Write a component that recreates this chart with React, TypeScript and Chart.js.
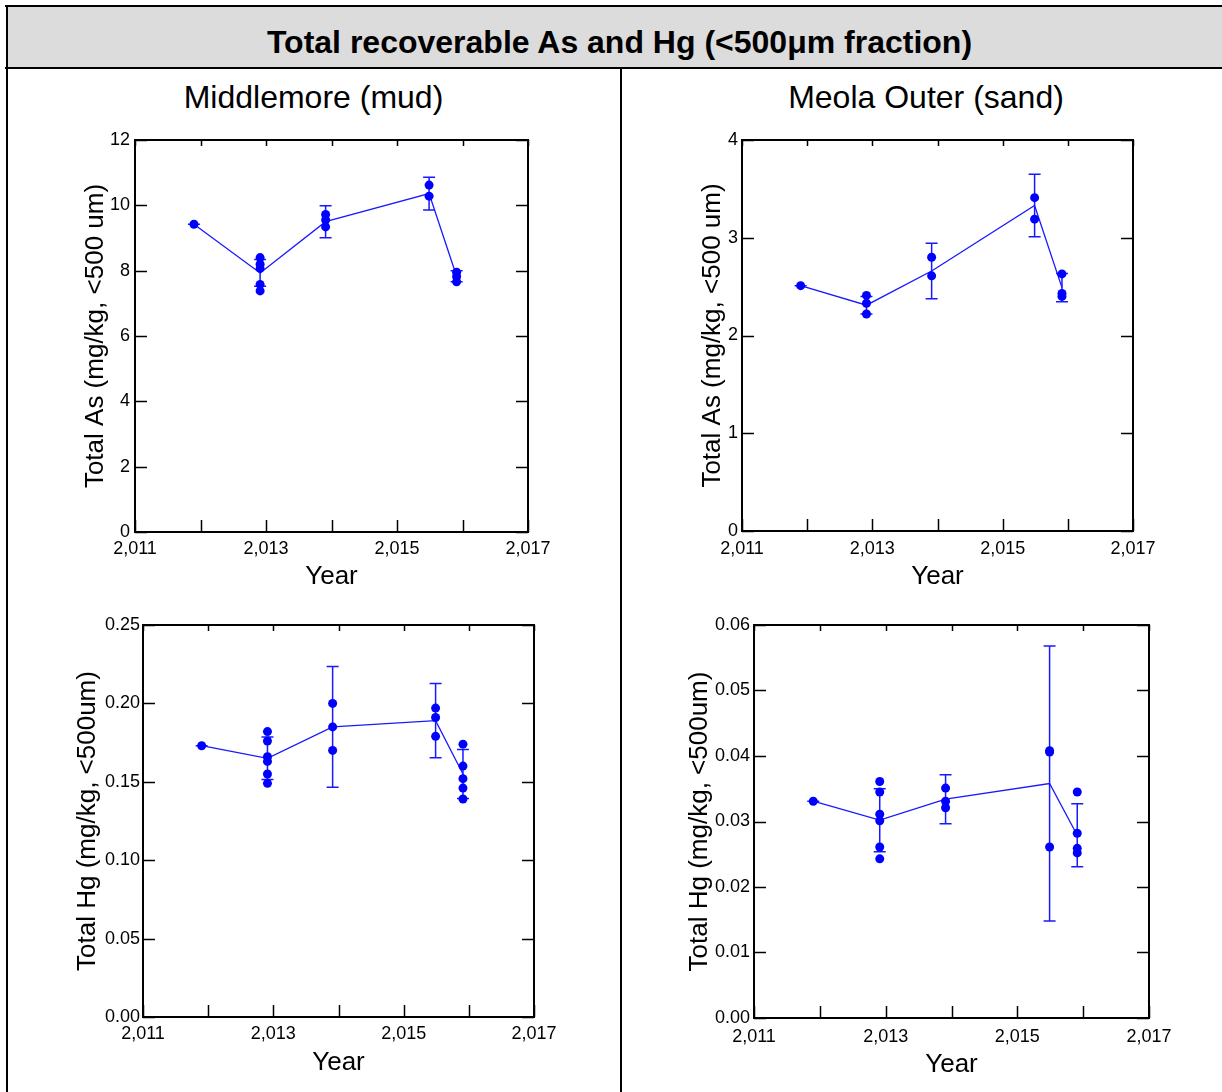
import React, { useEffect, useRef } from 'react';
import { Chart, registerables } from 'chart.js';

Chart.register(...registerables);

const FONT = '"Liberation Sans", Arial, Helvetica, sans-serif';
const PT_BLUE = 'rgb(0,0,255)';
const LINE_BLUE = 'rgb(25,25,255)';

// survey dates (decimal years)
const surveyYears = [2011.9, 2012.91, 2013.91, 2015.49, 2015.91];
const xTickValues = [2011, 2012, 2013, 2014, 2015, 2016, 2017];
const xTickLabels = ['2,011', '', '2,013', '', '2,015', '', '2,017'];

// Total As, Middlemore (mud)
const asMudSamples = [[9.42], [8.4, 8.2, 8.07, 7.58, 7.38], [9.72, 9.55, 9.34], [10.62, 10.28], [7.95, 7.82, 7.66]];
const asMudMeans = [9.42, 7.93, 9.5, 10.36, 7.83];
const asMudErrors = [0, 0.41, 0.49, 0.5, 0.17];
const asMudTicks = ['0', '2', '4', '6', '8', '10', '12'];

// Total As, Meola Outer (sand)
const asSandSamples = [[2.51], [2.41, 2.33, 2.22], [2.8, 2.61], [3.41, 3.19], [2.63, 2.43, 2.4]];
const asSandMeans = [2.51, 2.31, 2.66, 3.33, 2.49];
const asSandErrors = [0, 0.09, 0.285, 0.32, 0.145];
const asSandTicks = ['0', '1', '2', '3', '4'];

// Total Hg, Middlemore (mud)
const hgMudSamples = [[0.173], [0.182, 0.176, 0.166, 0.163, 0.155, 0.149], [0.2, 0.185, 0.17], [0.197, 0.191, 0.179], [0.174, 0.16, 0.152, 0.146, 0.139]];
const hgMudMeans = [0.173, 0.165, 0.185, 0.189, 0.155];
const hgMudErrors = [0, 0.0135, 0.0385, 0.0237, 0.0156];
const hgMudTicks = ['0.00', '0.05', '0.10', '0.15', '0.20', '0.25'];

// Total Hg, Meola Outer (sand)
const hgSandSamples = [[0.0331], [0.0361, 0.0345, 0.0311, 0.0301, 0.0261, 0.0243], [0.0351, 0.0331, 0.0321], [0.0408, 0.0406, 0.0261], [0.0345, 0.0282, 0.0259, 0.0252]];
const hgSandMeans = [0.0331, 0.0302, 0.0334, 0.0358, 0.0279];
const hgSandErrors = [0, 0.0048, 0.00375, 0.021, 0.0048];
const hgSandTicks = ['0.00', '0.01', '0.02', '0.03', '0.04', '0.05', '0.06'];

type PanelProps = {
  l: number; t: number; r: number; b: number;
  xAxisH: number;
  yTitleX: number;
  xTitleMid: number;
  yTickPad: number;
  xTickPad: number;
  yMax: number;
  yStep: number;
  yTicks: string[];
  yTitle: string;
  samples: number[][];
  means: number[];
  errors: number[];
};

const Y_W = 90;
const PAD_TOP = 20;
const PAD_RIGHT = 40;

function Panel(p: PanelProps) {
  const ref = useRef<HTMLCanvasElement>(null);
  const cLeft = p.l - Y_W;
  const cTop = p.t - PAD_TOP;
  const cW = p.r - p.l + Y_W + PAD_RIGHT;
  const cH = p.b - p.t + PAD_TOP + p.xAxisH;

  useEffect(() => {
    if (!ref.current) return;
    const samplePts = p.samples.flatMap((g, i) => g.map((v) => ({ x: surveyYears[i], y: v })));
    const meanPts = p.means.map((v, i) => ({ x: surveyYears[i], y: v }));
    const yTitlePad = p.yTitleX - cLeft - 13;
    const xTitlePad = p.b + p.xAxisH - p.xTitleMid - 13;

    const framePlugin = {
      id: 'frameAndErrors',
      beforeDatasetsDraw(chart: any) {
        const ctx = chart.ctx;
        const xs = chart.scales.x;
        const ys = chart.scales.y;
        ctx.save();
        ctx.strokeStyle = LINE_BLUE;
        ctx.lineWidth = 1.5;
        p.means.forEach((m, i) => {
          const x = xs.getPixelForValue(surveyYears[i]);
          const y1 = ys.getPixelForValue(m + p.errors[i]);
          const y2 = ys.getPixelForValue(m - p.errors[i]);
          ctx.beginPath();
          ctx.moveTo(x, y1);
          ctx.lineTo(x, y2);
          ctx.moveTo(x - 6, y1);
          ctx.lineTo(x + 6, y1);
          ctx.moveTo(x - 6, y2);
          ctx.lineTo(x + 6, y2);
          ctx.stroke();
        });
        ctx.restore();
      },
      afterDraw(chart: any) {
        const ctx = chart.ctx;
        const a = chart.chartArea;
        const xs = chart.scales.x;
        const ys = chart.scales.y;
        ctx.save();
        ctx.strokeStyle = '#000';
        ctx.lineWidth = 1.5;
        ctx.beginPath();
        xs.ticks.forEach((tk: any) => {
          const x = Math.round(xs.getPixelForValue(tk.value)) + 0.5;
          ctx.moveTo(x, a.bottom);
          ctx.lineTo(x, a.bottom - 12);
          ctx.moveTo(x, a.top);
          ctx.lineTo(x, a.top + 6);
        });
        ys.ticks.forEach((tk: any) => {
          const y = Math.round(ys.getPixelForValue(tk.value)) + 0.5;
          ctx.moveTo(a.left, y);
          ctx.lineTo(a.left + 12, y);
          ctx.moveTo(a.right, y);
          ctx.lineTo(a.right - 12, y);
        });
        ctx.stroke();
        ctx.lineWidth = 2;
        ctx.strokeRect(a.left, a.top, a.right - a.left, a.bottom - a.top);
        ctx.restore();
      },
    };

    const chart = new Chart(ref.current, {
      type: 'scatter',
      data: {
        datasets: [
          {
            data: meanPts,
            showLine: true,
            borderColor: LINE_BLUE,
            borderWidth: 1.3,
            pointRadius: 0,
            order: 2,
          } as any,
          {
            data: samplePts,
            showLine: false,
            backgroundColor: PT_BLUE,
            borderColor: PT_BLUE,
            borderWidth: 0,
            pointRadius: 4.5,
            order: 1,
          } as any,
        ],
      },
      options: {
        animation: false,
        responsive: false,
        maintainAspectRatio: false,
        devicePixelRatio: 1,
        events: [],
        layout: { padding: { left: 0, top: PAD_TOP, right: PAD_RIGHT, bottom: 0 } },
        plugins: { legend: { display: false }, tooltip: { enabled: false }, title: { display: false } },
        scales: {
          x: {
            type: 'linear',
            position: 'bottom',
            min: 2011,
            max: 2017,
            afterBuildTicks: (s: any) => {
              s.ticks = xTickValues.map((v) => ({ value: v }));
            },
            afterFit: (s: any) => {
              s.height = p.xAxisH;
            },
            ticks: {
              autoSkip: false,
              maxRotation: 0,
              minRotation: 0,
              padding: p.xTickPad,
              color: '#000',
              font: { size: 18, family: FONT },
              callback: (_v: any, i: number) => xTickLabels[i],
            },
            grid: { display: false, drawTicks: false },
            border: { display: false },
            title: {
              display: true,
              text: 'Year',
              color: '#000',
              font: { size: 26, family: FONT, lineHeight: 1 },
              padding: { top: 0, bottom: xTitlePad },
            },
          },
          y: {
            type: 'linear',
            position: 'left',
            min: 0,
            max: p.yMax,
            afterFit: (s: any) => {
              s.width = Y_W;
            },
            ticks: {
              stepSize: p.yStep,
              autoSkip: false,
              padding: p.yTickPad,
              color: '#000',
              font: { size: 18, family: FONT },
              callback: (_v: any, i: number) => p.yTicks[i],
            },
            grid: { display: false, drawTicks: false },
            border: { display: false },
            title: {
              display: true,
              text: p.yTitle,
              color: '#000',
              font: { size: 26, family: FONT, lineHeight: 1 },
              padding: { top: yTitlePad, bottom: 0 },
            },
          },
        },
      } as any,
      plugins: [framePlugin],
    });
    return () => chart.destroy();
  }, []);

  return (
    <canvas
      ref={ref}
      width={cW}
      height={cH}
      style={{ position: 'absolute', left: cLeft, top: cTop, width: cW, height: cH }}
    />
  );
}

export default function App() {
  useEffect(() => {
    document.documentElement.style.overflow = 'hidden';
    document.body.style.overflow = 'hidden';
  }, []);

  const black = '#000';
  return (
    <div
      style={{
        position: 'absolute',
        left: 0,
        top: 0,
        width: 1222,
        height: 1092,
        overflow: 'hidden',
        background: '#fff',
        fontFamily: FONT,
        color: '#000',
      }}
    >
      {/* table frame */}
      <div style={{ position: 'absolute', left: 7, top: 7, width: 1240, height: 60, background: '#dcdcdc' }} />
      <div style={{ position: 'absolute', left: 5, top: 5, width: 1240, height: 2, background: black }} />
      <div style={{ position: 'absolute', left: 6, top: 5, width: 2, height: 1100, background: black }} />
      <div style={{ position: 'absolute', left: 5, top: 67, width: 1240, height: 2, background: black }} />
      <div style={{ position: 'absolute', left: 620, top: 67, width: 2, height: 1040, background: black }} />

      <div
        style={{
          position: 'absolute',
          left: 7,
          width: 1225,
          top: 26,
          fontSize: 32,
          lineHeight: '32px',
          fontWeight: 'bold',
          textAlign: 'center',
          whiteSpace: 'nowrap',
        }}
      >
        Total recoverable As and Hg (&lt;500μm fraction)
      </div>
      <div
        style={{ position: 'absolute', left: 7, width: 613, top: 81, fontSize: 32, lineHeight: '32px', textAlign: 'center', whiteSpace: 'nowrap' }}
      >
        Middlemore (mud)
      </div>
      <div
        style={{ position: 'absolute', left: 622, width: 608, top: 81, fontSize: 32, lineHeight: '32px', textAlign: 'center', whiteSpace: 'nowrap' }}
      >
        Meola Outer (sand)
      </div>

      <Panel
        l={135} t={140} r={528} b={532} xAxisH={80}
        yTitleX={96} xTitleMid={577} yTickPad={5} xTickPad={6}
        yMax={12} yStep={2} yTicks={asMudTicks} yTitle="Total As (mg/kg, <500 um)"
        samples={asMudSamples} means={asMudMeans} errors={asMudErrors}
      />
      <Panel
        l={742} t={140} r={1133} b={531} xAxisH={80}
        yTitleX={713} xTitleMid={577} yTickPad={4} xTickPad={7}
        yMax={4} yStep={1} yTicks={asSandTicks} yTitle="Total As (mg/kg, <500 um)"
        samples={asSandSamples} means={asSandMeans} errors={asSandErrors}
      />
      <Panel
        l={143} t={625} r={534} b={1017} xAxisH={70}
        yTitleX={88} xTitleMid={1063} yTickPad={3} xTickPad={6}
        yMax={0.25} yStep={0.05} yTicks={hgMudTicks} yTitle="Total Hg (mg/kg, <500um)"
        samples={hgMudSamples} means={hgMudMeans} errors={hgMudErrors}
      />
      <Panel
        l={754} t={625} r={1149} b={1018} xAxisH={70}
        yTitleX={700} xTitleMid={1065} yTickPad={4} xTickPad={8}
        yMax={0.06} yStep={0.01} yTicks={hgSandTicks} yTitle="Total Hg (mg/kg, <500um)"
        samples={hgSandSamples} means={hgSandMeans} errors={hgSandErrors}
      />
    </div>
  );
}
